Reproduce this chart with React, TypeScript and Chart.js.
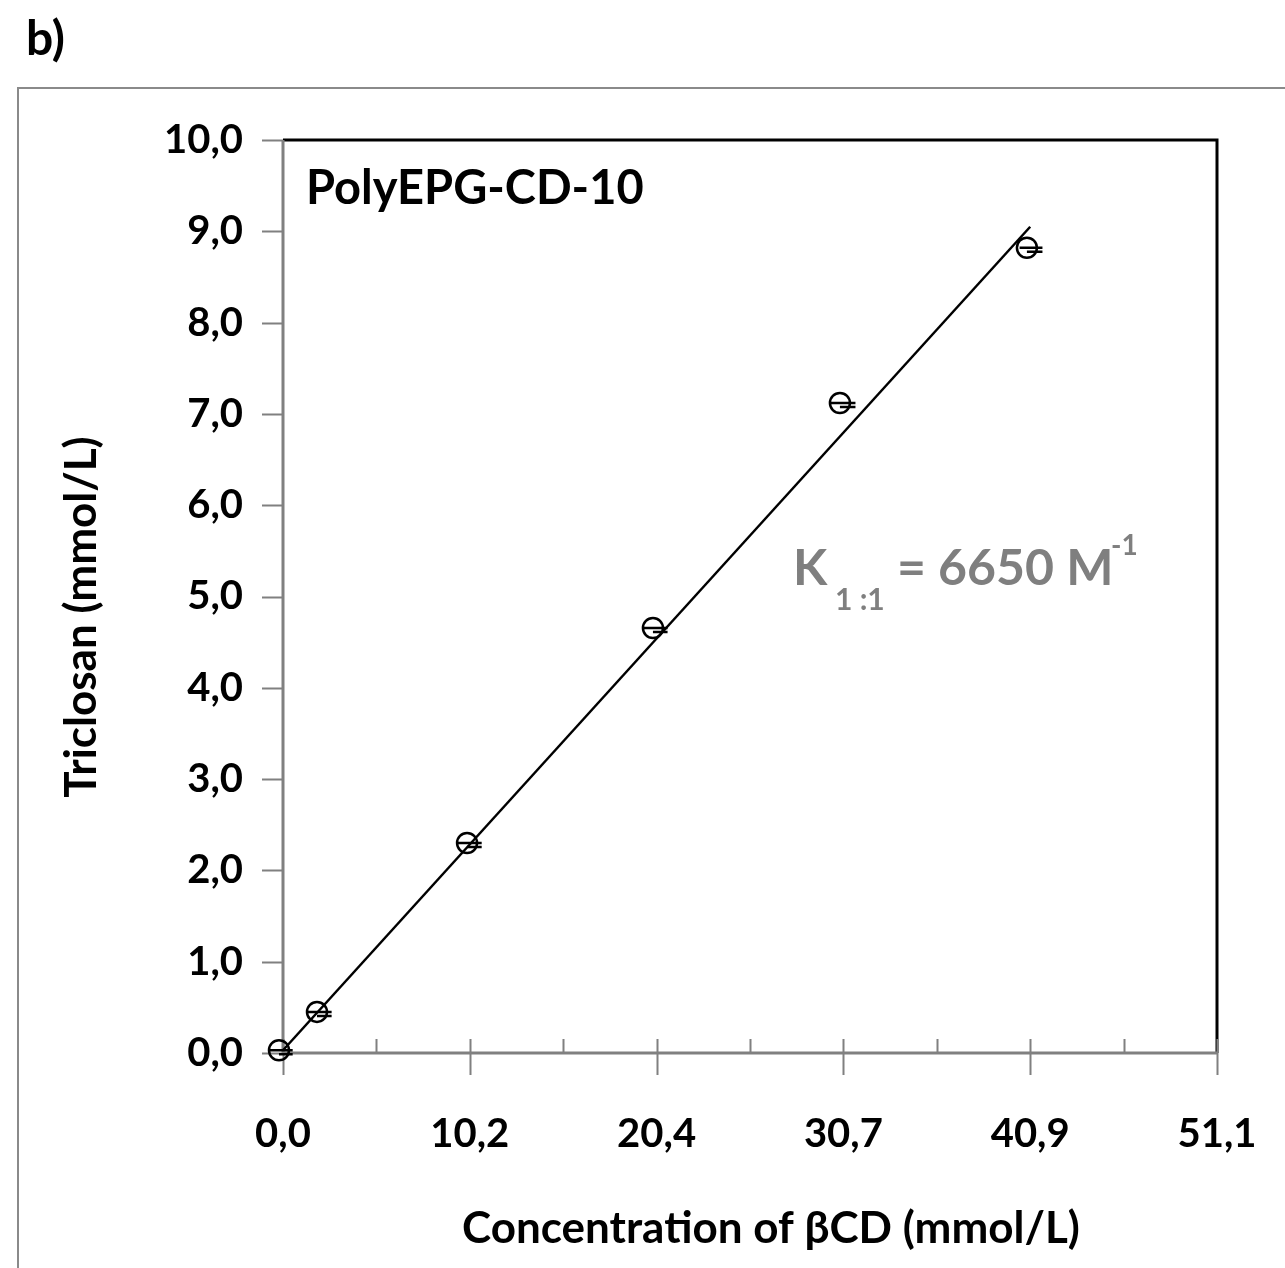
import React, { useEffect, useRef } from 'react';
import { Chart, registerables } from 'chart.js';

Chart.register(...registerables);

// ---- data ----
const concentrationBCD = [-0.22, 1.86, 10.07, 20.24, 30.47, 40.7];
const triclosan = [0.03, 0.45, 2.3, 4.655, 7.12, 8.82];
const xErrMinus = [0.5, 0.5, 0.5, 0.5, 0.5, 0.4];
const xErrPlus = [0.75, 0.8, 0.8, 0.8, 0.85, 0.85];
const fitX = [0, 40.88];
const fitY = [0.03, 9.05];
const xTickValues = [0, 5.11, 10.22, 15.33, 20.44, 25.55, 30.66, 35.77, 40.88, 45.99, 51.1];
const yTickValues = [0, 1, 2, 3, 4, 5, 6, 7, 8, 9, 10];
const xAxisTitle = 'Concentration of βCD (mmol/L)';
const yAxisTitle = 'Triclosan (mmol/L)';
const panelLabel = 'b)';
const seriesLabel = 'PolyEPG-CD-10';
const constantParts = { k: 'K', sub: '1 :1', main: '= 6650 M', sup: '-1' };
const constantAnchor = { x: 27.9, y: 5.13 };

const FONT = 'Lato, "Open Sans", sans-serif';
const fmt = (v: number) => v.toFixed(1).replace('.', ',');

const decorPlugin = {
  id: 'decor',
  beforeDatasetsDraw(chart: any) {
    const { ctx, chartArea: a, scales } = chart;
    const xs = scales.x;
    const ys = scales.y;
    ctx.save();
    // outer frame
    ctx.strokeStyle = '#8a8a8a';
    ctx.lineWidth = 2;
    ctx.strokeRect(18, 88, chart.width, chart.height);
    // top/right black border
    ctx.strokeStyle = '#000';
    ctx.lineWidth = 3;
    ctx.beginPath();
    ctx.moveTo(a.left, a.top);
    ctx.lineTo(a.right, a.top);
    ctx.lineTo(a.right, a.bottom);
    ctx.stroke();
    // grey axes
    ctx.strokeStyle = '#808080';
    ctx.lineWidth = 3;
    ctx.beginPath();
    ctx.moveTo(a.left, a.top);
    ctx.lineTo(a.left, a.bottom);
    ctx.lineTo(a.right, a.bottom);
    ctx.stroke();
    // y ticks (outside)
    ctx.lineWidth = 2;
    ctx.beginPath();
    yTickValues.forEach((v) => {
      const py = Math.round(ys.getPixelForValue(v)) + 0.5;
      ctx.moveTo(a.left - 21, py);
      ctx.lineTo(a.left, py);
    });
    // x ticks: major cross, minor inside
    xTickValues.forEach((v, i) => {
      const px = Math.round(xs.getPixelForValue(v)) + 0.5;
      ctx.moveTo(px, a.bottom - 14);
      ctx.lineTo(px, i % 2 === 0 ? a.bottom + 22 : a.bottom);
    });
    ctx.stroke();
    ctx.restore();
  },
  afterDatasetsDraw(chart: any) {
    const { ctx, scales } = chart;
    const xs = scales.x;
    const ys = scales.y;
    ctx.save();
    ctx.strokeStyle = '#000';
    ctx.lineWidth = 2.5;
    ctx.beginPath();
    concentrationBCD.forEach((v, i) => {
      const py = ys.getPixelForValue(triclosan[i]);
      ctx.moveTo(xs.getPixelForValue(v - xErrMinus[i]), py);
      ctx.lineTo(xs.getPixelForValue(v + xErrPlus[i]), py);
      ctx.moveTo(xs.getPixelForValue(v), py + 4);
      ctx.lineTo(xs.getPixelForValue(v + xErrPlus[i]), py + 4);
    });
    ctx.stroke();
    ctx.restore();
  },
  afterDraw(chart: any) {
    const { ctx, chartArea: a, scales } = chart;
    ctx.save();
    ctx.fillStyle = '#000';
    ctx.textBaseline = 'alphabetic';
    // panel label
    ctx.font = `bold 48px ${FONT}`;
    ctx.textAlign = 'left';
    ctx.fillText(panelLabel, 26, 55);
    // series label
    ctx.font = `bold 47px ${FONT}`;
    ctx.fillText(seriesLabel, a.left + 23, a.top + 64);
    // axis titles
    ctx.font = `bold 44px ${FONT}`;
    ctx.textAlign = 'center';
    ctx.fillText(xAxisTitle, 771, a.bottom + 190);
    ctx.save();
    ctx.translate(96, 617);
    ctx.rotate(-Math.PI / 2);
    ctx.fillText(yAxisTitle, 0, 0);
    ctx.restore();
    // binding constant
    const ax = scales.x.getPixelForValue(constantAnchor.x);
    const ay = scales.y.getPixelForValue(constantAnchor.y);
    ctx.fillStyle = '#7f7f7f';
    ctx.textAlign = 'left';
    ctx.font = `bold 50px ${FONT}`;
    ctx.fillText(constantParts.k, ax, ay);
    ctx.font = `bold 30px ${FONT}`;
    ctx.fillText(constantParts.sub, ax + 42, ay + 25);
    ctx.font = `bold 50px ${FONT}`;
    ctx.fillText(constantParts.main, ax + 104, ay);
    ctx.font = `bold 28px ${FONT}`;
    ctx.fillText(constantParts.sup, ax + 318, ay - 30);
    ctx.restore();
  },
};

export default function App() {
  const ref = useRef<HTMLCanvasElement | null>(null);
  useEffect(() => {
    document.body.style.margin = '0';
    if (!ref.current) return;
    const chart = new Chart(ref.current, {
      type: 'scatter',
      data: {
        datasets: [
          {
            label: 'fit',
            data: fitX.map((x, i) => ({ x, y: fitY[i] })),
            showLine: true,
            borderColor: '#000',
            borderWidth: 2.5,
            pointRadius: 0,
            clip: false as any,
          },
          {
            label: 'data',
            data: concentrationBCD.map((x, i) => ({ x, y: triclosan[i] })),
            showLine: false,
            pointRadius: 10,
            pointBorderWidth: 2.5,
            pointBorderColor: '#000',
            pointBackgroundColor: 'rgba(0,0,0,0)',
            clip: false as any,
          },
        ],
      },
      options: {
        animation: false,
        responsive: false,
        devicePixelRatio: 1,
        layout: { padding: { left: 0, top: 140, right: 68, bottom: 0 } },
        plugins: { legend: { display: false }, tooltip: { enabled: false } },
        scales: {
          x: {
            type: 'linear',
            min: 0,
            max: 51.1,
            afterBuildTicks: (s: any) => {
              s.ticks = xTickValues.map((value) => ({ value }));
            },
            afterFit: (s: any) => {
              s.height = 215;
              s.paddingLeft = 0;
              s.paddingRight = 0;
            },
            grid: { display: false, drawTicks: false },
            border: { display: false },
            ticks: {
              autoSkip: false,
              maxRotation: 0,
              padding: 57,
              color: '#000',
              font: { family: FONT, weight: 'bold', size: 40 },
              callback: (v: any, i: number) => (i % 2 === 0 ? fmt(Number(v)) : ''),
            },
          },
          y: {
            type: 'linear',
            min: 0,
            max: 10,
            afterBuildTicks: (s: any) => {
              s.ticks = yTickValues.map((value) => ({ value }));
            },
            afterFit: (s: any) => {
              s.width = 283;
              s.paddingTop = 0;
              s.paddingBottom = 0;
            },
            grid: { display: false, drawTicks: false },
            border: { display: false },
            ticks: {
              autoSkip: false,
              padding: 40,
              color: '#000',
              font: { family: FONT, weight: 'bold', size: 40 },
              callback: (v: any) => fmt(Number(v)),
            },
          },
        },
      },
      plugins: [decorPlugin],
    });
    return () => chart.destroy();
  }, []);
  return (
    <div style={{ width: 1285, height: 1268 }}>
      <canvas ref={ref} width={1285} height={1268} style={{ display: 'block' }} />
    </div>
  );
}
